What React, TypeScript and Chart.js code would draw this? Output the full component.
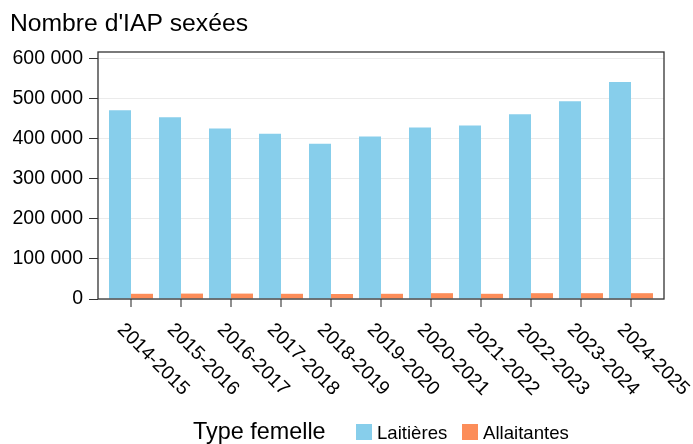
import React, { useEffect, useRef } from 'react';
import { Chart, registerables } from 'chart.js';

Chart.register(...registerables);

const categories = [
  '2014-2015', '2015-2016', '2016-2017', '2017-2018', '2018-2019', '2019-2020',
  '2020-2021', '2021-2022', '2022-2023', '2023-2024', '2024-2025',
];
const laitieres = [471000, 453000, 425000, 412000, 387000, 405000, 428000, 433000, 461000, 493000, 541000];
const allaitantes = [13000, 13500, 13500, 13000, 12500, 13000, 14500, 13000, 14500, 14500, 14500];
const yTicks = [0, 100000, 200000, 300000, 400000, 500000, 600000];
const seriesNames = ['Laitières', 'Allaitantes'];
const seriesColors = ['#87CEEB', '#FC8D59'];
const chartTitle = "Nombre d'IAP sexées";
const legendTitle = 'Type femelle';

const FONT = '"Liberation Sans", Arial, sans-serif';

const fmt = (v: number) => String(v).replace(/\B(?=(\d{3})+(?!\d))/g, ' ');

const decor = {
  id: 'decor',
  beforeDraw(chart: any) {
    const ctx = chart.ctx;
    ctx.save();
    ctx.fillStyle = '#ffffff';
    ctx.fillRect(0, 0, chart.width, chart.height);
    ctx.restore();
  },
  afterDraw(chart: any) {
    const ctx = chart.ctx;
    const { left, top, right, bottom } = chart.chartArea;
    ctx.save();
    // title
    ctx.fillStyle = '#000000';
    ctx.textAlign = 'left';
    ctx.textBaseline = 'alphabetic';
    ctx.font = `24.7px ${FONT}`;
    ctx.fillText(chartTitle, 10, 31);
    // frame
    ctx.strokeStyle = '#333333';
    ctx.lineWidth = 1.3;
    ctx.strokeRect(left, top, right - left, bottom - top);
    // x ticks and labels
    const xs = chart.scales.x;
    ctx.lineWidth = 1.1;
    categories.forEach((c, i) => {
      const px = xs.getPixelForValue(i);
      ctx.beginPath();
      ctx.moveTo(px, bottom);
      ctx.lineTo(px, bottom + 8);
      ctx.stroke();
      ctx.save();
      ctx.translate(px - 14.5, bottom + 31.6);
      ctx.rotate(Math.PI / 4);
      ctx.font = `19.4px ${FONT}`;
      ctx.fillStyle = '#000000';
      ctx.fillText(c, 0, 0);
      ctx.restore();
    });
    // legend
    ctx.font = `23.4px ${FONT}`;
    ctx.fillStyle = '#000000';
    ctx.fillText(legendTitle, 193, 439);
    const boxX = [356, 462];
    seriesNames.forEach((n, i) => {
      ctx.fillStyle = seriesColors[i];
      ctx.fillRect(boxX[i], 424, 16, 16);
      ctx.fillStyle = '#000000';
      ctx.font = `18.6px ${FONT}`;
      ctx.fillText(n, boxX[i] + 21, 439);
    });
    ctx.restore();
  },
};

export default function App() {
  const ref = useRef<HTMLCanvasElement | null>(null);
  useEffect(() => {
    if (!ref.current) return;
    const chart = new Chart(ref.current, {
      type: 'bar',
      data: {
        datasets: [
          {
            label: seriesNames[0],
            data: laitieres.map((v, i) => ({ x: i, y: v })),
            backgroundColor: seriesColors[0],
            borderWidth: 0,
          },
          {
            label: seriesNames[1],
            data: allaitantes.map((v, i) => ({ x: i, y: v })),
            backgroundColor: seriesColors[1],
            borderWidth: 0,
          },
        ],
      },
      options: {
        responsive: false,
        animation: false,
        devicePixelRatio: 1,
        layout: { padding: { left: 0, top: 52, right: 29, bottom: 145 } },
        datasets: { bar: { categoryPercentage: 0.88, barPercentage: 1 } },
        plugins: {
          legend: { display: false },
          title: { display: false },
          tooltip: { enabled: false },
        },
        scales: {
          x: {
            type: 'linear',
            display: false,
            offset: false,
            min: -0.66,
            max: 10.66,
          },
          y: {
            min: 0,
            max: 616000,
            afterFit: (s: any) => { s.width = 98; },
            afterBuildTicks: (s: any) => { s.ticks = yTicks.map((v) => ({ value: v })); },
            border: { display: false },
            grid: { color: '#ebebeb', lineWidth: 1, tickColor: '#333333', tickLength: 9 },
            ticks: {
              color: '#000000',
              padding: 6,
              font: { family: FONT, size: 19.5 },
              callback: (v: any) => fmt(Number(v)),
            },
          },
        },
      } as any,
      plugins: [decor],
    });
    return () => chart.destroy();
  }, []);
  return (
    <div style={{ position: 'fixed', left: 0, top: 0, width: 693, height: 444 }}>
      <canvas ref={ref} width={693} height={444} style={{ display: 'block' }} />
    </div>
  );
}
